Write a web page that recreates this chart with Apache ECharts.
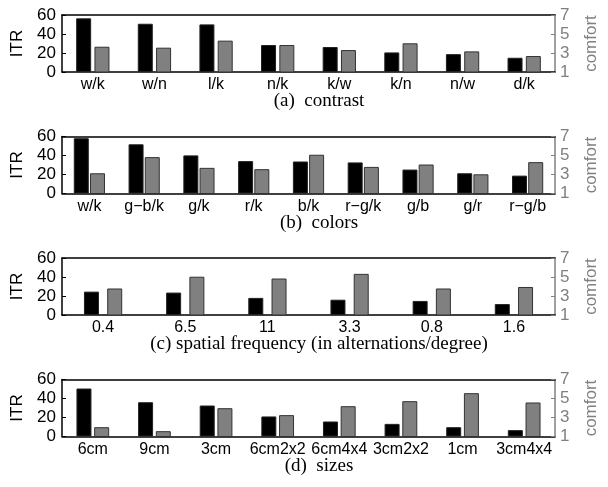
<!DOCTYPE html>
<html>
<head>
<meta charset="utf-8">
<script src="https://cdn.jsdelivr.net/npm/echarts@6/dist/echarts.min.js"></script>
<style>
html, body { margin: 0; padding: 0; background: #fff; }
#chart { width: 608px; height: 487px; }
</style>
</head>
<body>
<div id="chart"></div>
<script>
// (a) contrast
const contrastCats = ['w/k', 'w/n', 'l/k', 'n/k', 'k/w', 'k/n', 'n/w', 'd/k']
const contrastITR = [56.5, 50.8, 50.1, 28.4, 26.3, 20.6, 18.8, 15.0]
const contrastComfort = [3.66, 3.56, 4.30, 3.84, 3.31, 4.02, 3.17, 2.68]

// (b) colors
const colorCats = ['w/k', 'g\u2212b/k', 'g/k', 'r/k', 'b/k', 'r\u2212g/k', 'g/b', 'g/r', 'r\u2212g/b']
const colorITR = [58.2, 51.8, 40.1, 34.1, 33.7, 32.7, 25.2, 21.3, 18.8]
const colorComfort = [3.13, 4.83, 3.70, 3.56, 5.08, 3.80, 4.05, 3.02, 4.30]

// (c) spatial frequency
const freqCats = ['0.4', '6.5', '11', '3.3', '0.8', '1.6']
const freqITR = [24.6, 23.6, 18.0, 16.1, 14.8, 11.5]
const freqComfort = [3.79, 5.03, 4.84, 5.33, 3.79, 3.95]

// (d) sizes
const sizeCats = ['6cm', '9cm', '3cm', '6cm2x2', '6cm4x4', '3cm2x2', '1cm', '3cm4x4']
const sizeITR = [50.5, 36.1, 32.6, 21.1, 15.8, 13.3, 9.8, 6.7]
const sizeComfort = [1.98, 1.56, 3.98, 3.25, 4.19, 4.72, 5.56, 4.58]

const captions = ['(a)  contrast', '(b)  colors', '(c) spatial frequency (in alternations/degree)', '(d)  sizes']

const panels = [
  { cats: contrastCats, itr: contrastITR, comfort: contrastComfort, gap: '22%' },
  { cats: colorCats, itr: colorITR, comfort: colorComfort, gap: '8%' },
  { cats: freqCats, itr: freqITR, comfort: freqComfort, gap: '55%' },
  { cats: sizeCats, itr: sizeITR, comfort: sizeComfort, gap: '18%' }
]

const SANS = 'Liberation Sans, Arial, sans-serif'
const SERIF = 'Liberation Serif, Times New Roman, serif'
const GRAY = '#808080'
const LEFT = 62, RIGHT = 41, H = 57, STEP = 121.5, TOP0 = 15

let grid = [], xAxis = [], yAxis = [], series = [], title = []

panels.forEach((p, i) => {
  let top = TOP0 + i * STEP
  grid.push({ left: LEFT, right: RIGHT, top: top, height: H })

  // bottom axis with labels
  xAxis.push({
    type: 'category', gridIndex: i, data: p.cats, position: 'bottom',
    axisLine: { lineStyle: { color: '#000', width: 1.5 } },
    axisTick: { inside: true, alignWithLabel: true, length: 4, lineStyle: { color: '#555' } },
    axisLabel: { color: '#000', fontSize: 16, fontFamily: SANS, margin: 5, interval: 0, hideOverlap: false }
  })
  // top axis: box edge + ticks only
  xAxis.push({
    type: 'category', gridIndex: i, data: p.cats, position: 'top',
    axisLine: { lineStyle: { color: '#000', width: 1.5 } },
    axisTick: { inside: true, alignWithLabel: true, length: 4, lineStyle: { color: '#000' } },
    axisLabel: { show: false }
  })

  yAxis.push({
    type: 'value', gridIndex: i, position: 'left', min: 0, max: 60, interval: 20,
    name: 'ITR', nameLocation: 'middle', nameGap: 36, nameRotate: 90,
    nameTextStyle: { color: '#000', fontSize: 17, fontFamily: SANS },
    axisLine: { show: true, lineStyle: { color: '#000', width: 1.5 } },
    axisTick: { show: true, inside: true, length: 4, lineStyle: { color: '#000' } },
    axisLabel: { color: '#000', fontSize: 17, fontFamily: SANS, margin: 6 },
    splitLine: { show: false }
  })
  yAxis.push({
    type: 'value', gridIndex: i, position: 'right', min: 1, max: 7, interval: 2,
    name: 'comfort', nameLocation: 'middle', nameGap: 28, nameRotate: 90,
    nameTextStyle: { color: GRAY, fontSize: 17, fontFamily: SANS },
    axisLine: { show: true, lineStyle: { color: GRAY, width: 1.5 } },
    axisTick: { show: true, inside: true, length: 4, lineStyle: { color: GRAY } },
    axisLabel: { color: GRAY, fontSize: 17, fontFamily: SANS, margin: 5 },
    splitLine: { show: false }
  })

  series.push({
    type: 'bar', name: 'ITR', xAxisIndex: i * 2, yAxisIndex: i * 2,
    data: p.itr, barWidth: 15, barGap: p.gap,
    itemStyle: { color: '#000', borderColor: '#222', borderWidth: 1 }
  })
  series.push({
    type: 'bar', name: 'comfort', xAxisIndex: i * 2, yAxisIndex: i * 2 + 1,
    data: p.comfort, barWidth: 15, barGap: p.gap,
    itemStyle: { color: GRAY, borderColor: '#333', borderWidth: 1 }
  })

  title.push({
    text: captions[i], left: 314, top: top + H + 15, textAlign: 'center',
    textStyle: { color: '#000', fontSize: 19, fontWeight: 'normal', fontFamily: SERIF }
  })
})

let chart = echarts.init(document.getElementById('chart'), null, { renderer: 'canvas' })
chart.setOption({
  animation: false,
  backgroundColor: '#fff',
  title: title,
  grid: grid,
  xAxis: xAxis,
  yAxis: yAxis,
  series: series
})
</script>
</body>
</html>
